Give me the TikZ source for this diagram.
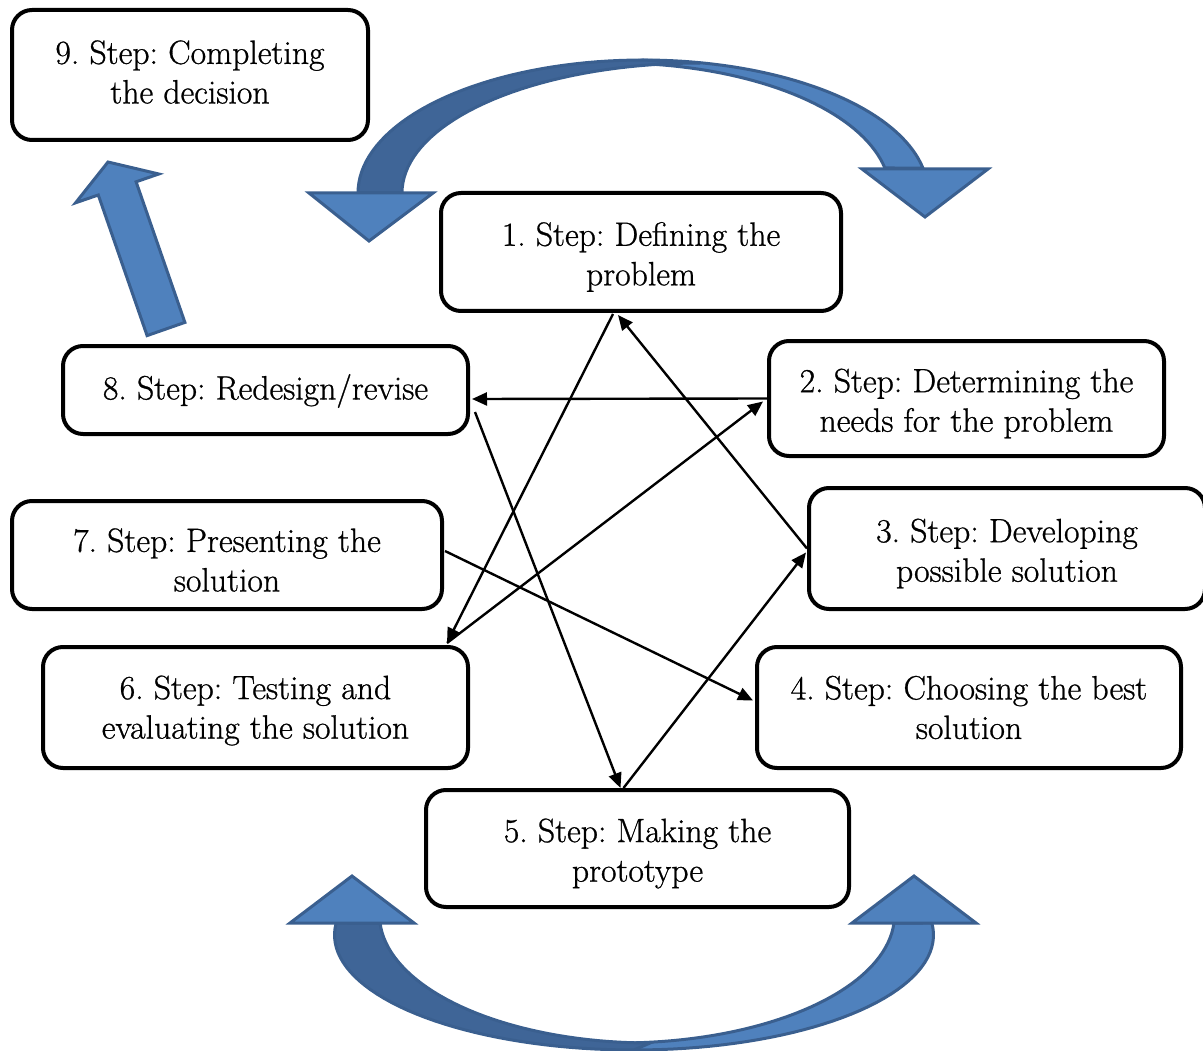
\documentclass[tikz,border=0pt]{standalone}
\usepackage{fontspec}
\setmainfont{Latin Modern Roman}[FakeBold=0.8]
\frenchspacing
\usetikzlibrary{arrows.meta,calc}
\definecolor{bfill}{HTML}{4F81BD}
\definecolor{bdark}{HTML}{3F6597}
\definecolor{bline}{HTML}{3A5F8F}
\tikzset{
  stepbox/.style={draw=black, line width=4pt, rounded corners=20pt, fill=white, inner sep=0pt},
  steptext/.style={align=center, font=\addfontfeature{FakeBold=0.8}\frenchspacing\fontsize{33.7}{39.5}\selectfont, inner sep=0pt, yshift=-5pt},
  link/.style={line width=2.4pt, -{Triangle[length=15pt,width=13pt]}},
  blk/.style={draw=bline, line width=3pt, line join=miter}
}
\begin{document}
\begin{tikzpicture}[x=1pt,y=-1pt]
\useasboundingbox (0,0) rectangle (1203,1051);
% top curved arrow
\draw[blk, fill=bfill] plot[domain=90:10.8, samples=40] ({643+285*cos(\x)},{193-133*sin(\x)})
   -- plot[domain=11.1:90, samples=40] ({615+275*cos(\x)},{193-130*sin(\x)}) -- cycle;
\draw[blk, fill=bdark] plot[domain=180:90, samples=40] ({643+285*cos(\x)},{193-133*sin(\x)})
   -- plot[domain=90:180, samples=40] ({700+298*cos(\x)},{193-130*sin(\x)}) -- cycle;
\draw[blk, fill=bfill] (309,193) -- (433,193) -- (369,241) -- cycle;
\draw[blk, fill=bfill] (862,169) -- (988,169) -- (925,217) -- cycle;
% bottom curved arrow
\draw[blk, fill=bfill] plot[domain=270:366, samples=40] ({634+299.5*cos(\x)},{935-115*sin(\x)})
   -- plot[domain=356.4:270, samples=40] ({620+274.5*cos(\x)},{915-128*sin(\x)}) -- cycle;
\draw[blk, fill=bdark] plot[domain=174:270, samples=40] ({634+299.5*cos(\x)},{935-115*sin(\x)})
   -- plot[domain=270:183.6, samples=40] ({650+270.5*cos(\x)},{915-128*sin(\x)}) -- cycle;
\draw[blk, fill=bfill] (290,923) -- (414,923) -- (352,876) -- cycle;
\draw[blk, fill=bfill] (852,923) -- (976,923) -- (914,876) -- cycle;
% straight block arrow 8 -> 9
\draw[blk, fill=bfill] (147.1,335.6) -- (184.9,322.4) -- (136.1,181.8) -- (158.8,174) -- (108,162)
   -- (75.6,202.8) -- (98.3,195) -- cycle;
% boxes
\node[stepbox, minimum width=356pt, minimum height=130pt,
  label={[steptext, yshift=8pt]center:{9. Step: Completing\\the decision}}] (n9) at (190,75) {};
\node[stepbox, minimum width=400pt, minimum height=118pt,
  label={[steptext]center:{1. Step: Defining the\\problem}}] (n1) at (641,252) {};
\node[stepbox, minimum width=405pt, minimum height=88pt,
  label={[steptext, yshift=4pt]center:{8. Step: Redesign/revise}}] (n8) at (265.5,390) {};
\node[stepbox, minimum width=395pt, minimum height=115pt,
  label={[steptext]center:{2. Step: Determining the\\needs for the problem}}] (n2) at (966.5,398.5) {};
\node[stepbox, minimum width=396pt, minimum height=121pt,
  label={[steptext]center:{3. Step: Developing\\possible solution}}] (n3) at (1007,548.5) {};
\node[stepbox, minimum width=424pt, minimum height=121pt,
  label={[steptext, yshift=5pt]center:{4. Step: Choosing the best\\solution}}] (n4) at (969,707.5) {};
\node[stepbox, minimum width=430pt, minimum height=108pt,
  label={[steptext]center:{7. Step: Presenting the\\solution}}] (n7) at (227,555) {};
\node[stepbox, minimum width=425pt, minimum height=121pt,
  label={[steptext, yshift=2pt]center:{6. Step: Testing and\\evaluating the solution}}] (n6) at (255.5,707.5) {};
\node[stepbox, minimum width=423pt, minimum height=117pt,
  label={[steptext]center:{5. Step: Making the\\prototype}}] (n5) at (637.5,848.5) {};
% connectors
\draw[link] ($(n1.south)+(-28,1)$) -- ($(n6.north east)+(-23,-2)$);
\draw[link] (n3.west) -- ($(n1.south)+(-23,2)$);
\draw[link] (n2.west) -- ($(n8.east)+(2,9)$);
\draw[link] ($(n6.north east)+(-23,-2)$) -- ($(n2.west)+(-4,3)$);
\draw[link] ($(n8.east)+(5,22)$) -- ($(n5.north)+(-17,0)$);
\draw[link] ($(n5.north)+(-14,0)$) -- ($(n3.west)+(-1,4)$);
\draw[link] ($(n7.east)+(1,-4)$) -- ($(n4.west)+(-2,-7)$);
\end{tikzpicture}
\end{document}
